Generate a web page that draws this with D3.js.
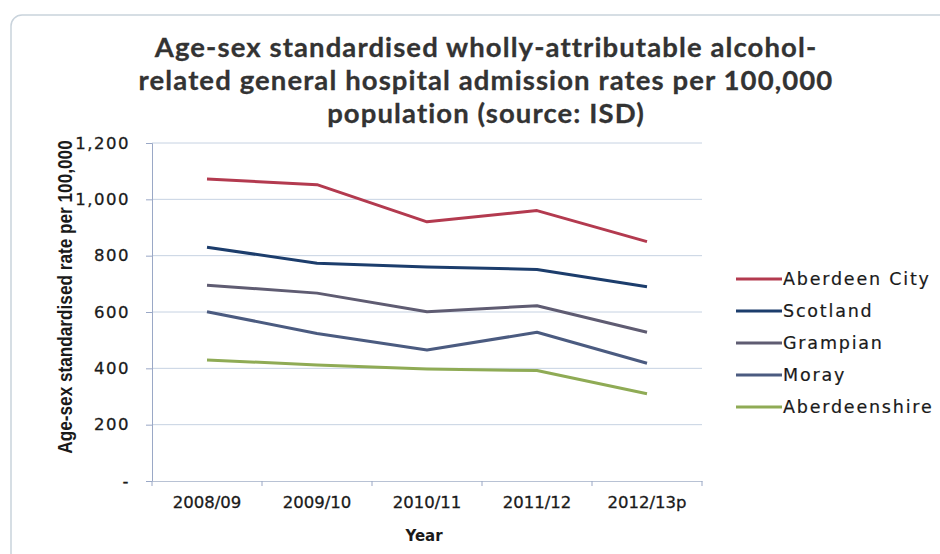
<!DOCTYPE html>
<html>
<head>
<meta charset="utf-8">
<script src="https://cdn.jsdelivr.net/npm/d3@7"></script>
<style>
  body { margin: 0; background: #fff; }
  svg { display: block; }
</style>
</head>
<body>
<svg width="940" height="554"></svg>
<script>
const years = ["2008/09", "2009/10", "2010/11", "2011/12", "2012/13p"]
const seriesNames = ["Aberdeen City", "Scotland", "Grampian", "Moray", "Aberdeenshire"]
const aberdeenCity = [1072, 1052, 920, 960, 850]
const scotland = [830, 773, 760, 751, 690]
const grampian = [695, 667, 601, 622, 528]
const moray = [601, 524, 465, 528, 418]
const aberdeenshire = [430, 412, 398, 392, 310]
const yTicks = [0, 200, 400, 600, 800, 1000, 1200]
const colors = ["#b33a4f", "#1c3d6c", "#5f5c72", "#4b5b80", "#8fab55"]

const values = [aberdeenCity, scotland, grampian, moray, aberdeenshire]
const series = seriesNames.map((name, i) => ({ name, color: colors[i], values: values[i] }))

const svg = d3.select("svg")

// chart frame
svg.append("rect")
  .attr("x", 11).attr("y", 15)
  .attr("width", 960).attr("height", 560)
  .attr("rx", 11)
  .attr("fill", "#fff")
  .attr("stroke", "#c9d3dc")
  .attr("stroke-width", 1.5)

const title = svg.append("text")
  .attr("text-anchor", "middle")
  .attr("font-family", "Lato, sans-serif")
  .attr("font-weight", "bold")
  .attr("font-size", 27.5)
  .attr("letter-spacing", 1.1)
  .attr("fill", "#333")
  .attr("stroke", "#333")
  .attr("stroke-width", 0.3)
const titleLines = [
  "Age-sex standardised wholly-attributable alcohol-",
  "related general hospital admission rates per 100,000",
  "population (source: ISD)"
]
titleLines.forEach((line, i) => {
  title.append("tspan").attr("x", 486).attr("y", 57 + i * 33).text(line)
})

const plot = { left: 152, right: 702, top: 143, bottom: 481 }

const x = d3.scaleBand().domain(years).range([plot.left, plot.right])
const y = d3.scaleLinear().domain([0, 1200]).range([plot.bottom, plot.top])

const tickFont = (sel) => sel
  .attr("font-family", "DejaVu Sans, sans-serif")
  .attr("font-size", 16.5)
  .attr("fill", "#1a1a1a")
  .attr("stroke", "#1a1a1a")
  .attr("stroke-width", 0.3)

// gridlines
svg.append("g")
  .selectAll("line")
  .data(yTicks.filter((t) => t > 0))
  .join("line")
  .attr("x1", plot.left).attr("x2", plot.right)
  .attr("y1", (t) => y(t)).attr("y2", (t) => y(t))
  .attr("stroke", "#c6d2e2")
  .attr("stroke-width", 1)

// y axis
const yAxis = svg.append("g")
  .attr("transform", `translate(${plot.left},0)`)
  .call(d3.axisLeft(y).tickValues(yTicks).tickSize(6).tickPadding(16)
    .tickFormat((d) => d === 0 ? "-" : d3.format(",")(d)))
yAxis.select(".domain").attr("stroke", "#9aa8c6")
yAxis.selectAll(".tick line").attr("stroke", "#9aa8c6")
yAxis.selectAll("text").call(tickFont).attr("letter-spacing", 1.5)

// x axis
const xAxis = svg.append("g")
  .attr("transform", `translate(0,${plot.bottom})`)
  .call(d3.axisBottom(x).tickSize(0).tickPadding(15))
xAxis.select(".domain").attr("stroke", "#b8c2d4")
xAxis.selectAll("text").call(tickFont)
xAxis.selectAll(".sep")
  .data(years.concat([""]))
  .join("line")
  .attr("class", "sep")
  .attr("x1", (d, i) => plot.left + i * x.step())
  .attr("x2", (d, i) => plot.left + i * x.step())
  .attr("y1", 0).attr("y2", 5)
  .attr("stroke", "#9aa8c6")

svg.append("text")
  .attr("x", 424)
  .attr("y", 541)
  .attr("text-anchor", "middle")
  .attr("font-family", "DejaVu Sans, sans-serif")
  .attr("font-weight", "bold")
  .attr("font-size", 15)
  .attr("fill", "#1a1a1a")
  .text("Year")

svg.append("text")
  .attr("transform", "translate(72,297) rotate(-90) scale(0.86,1)")
  .attr("text-anchor", "middle")
  .attr("font-family", "Liberation Sans, Arial, sans-serif")
  .attr("font-weight", "bold")
  .attr("font-size", 20)
  .attr("fill", "#1a1a1a")
  .text("Age-sex standardised rate per 100,000")

// lines
const line = d3.line()
  .x((d, i) => x(years[i]) + x.bandwidth() / 2)
  .y((d) => y(d))

svg.append("g")
  .selectAll("path")
  .data(series.slice().reverse())
  .join("path")
  .attr("d", (s) => line(s.values))
  .attr("fill", "none")
  .attr("stroke", (s) => s.color)
  .attr("stroke-width", 3)
  .attr("stroke-linejoin", "round")

// legend
const legend = svg.append("g").attr("transform", "translate(736,279)")
const items = legend.selectAll("g")
  .data(series)
  .join("g")
  .attr("transform", (s, i) => `translate(0,${i * 32})`)
items.append("line")
  .attr("x1", 0).attr("x2", 46)
  .attr("stroke", (s) => s.color)
  .attr("stroke-width", 3)
items.append("text")
  .attr("x", 47)
  .attr("dy", "0.36em")
  .attr("font-family", "DejaVu Sans, sans-serif")
  .attr("font-size", 17.5)
  .attr("letter-spacing", 1.8)
  .attr("fill", "#1a1a1a")
  .attr("stroke", "#1a1a1a")
  .attr("stroke-width", 0.2)
  .text((s) => s.name)
</script>
</body>
</html>
